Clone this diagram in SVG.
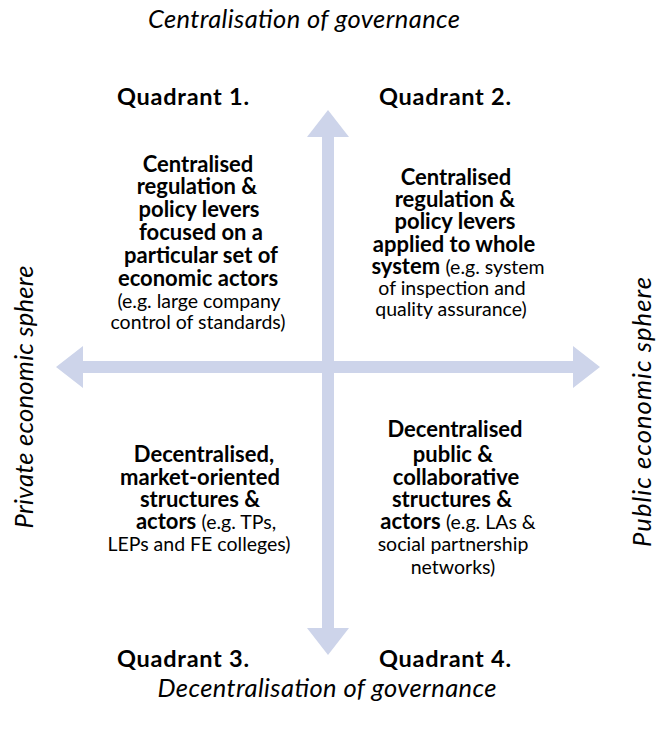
<svg xmlns="http://www.w3.org/2000/svg" width="656" height="731" viewBox="0 0 656 731">
  <style>
    .axis { font-family: Lato, "Open Sans", "Liberation Sans", sans-serif; font-style: italic; font-size: 25.5px; fill: #000; }
    .quad { font-family: Lato, "Open Sans", "Liberation Sans", sans-serif; font-weight: bold; font-size: 23.5px; fill: #000; }
    .b { font-family: Lato, "Open Sans", "Liberation Sans", sans-serif; font-weight: bold; font-size: 22px; fill: #000; text-anchor: middle; }
    .r { font-family: Lato, "Open Sans", "Liberation Sans", sans-serif; font-weight: normal; font-size: 19.5px; fill: #000; text-anchor: middle; }
    .rs { font-weight: normal; font-size: 19.5px; }
    .arrow { fill: #CDD4EA; }
  </style>
  <rect width="656" height="731" fill="#ffffff"/>

  <!-- two crossing double-headed axes -->
  <g id="connectors">
    <polygon id="axis-vertical" class="arrow"
      points="328,110 349,137 334,137 334,628 349,628 328,655 307,628 322,628 322,137 307,137"/>
    <polygon id="axis-horizontal" class="arrow"
      points="56,367 83,346 83,361 573,361 573,346 600,367 573,388 573,373 83,373 83,388"/>
  </g>

  <!-- axis labels -->
  <g id="label-top"><text class="axis" x="304" y="28" text-anchor="middle" textLength="312">Centralisation of governance</text></g>
  <g id="label-bottom"><text class="axis" x="327" y="697" text-anchor="middle" textLength="339">Decentralisation of governance</text></g>
  <g id="label-left"><text class="axis" transform="translate(33,397) rotate(-90)" text-anchor="middle" textLength="263">Private economic sphere</text></g>
  <g id="label-right"><text class="axis" transform="translate(651,412) rotate(-90)" text-anchor="middle" textLength="270">Public economic sphere</text></g>

  <!-- quadrant headings -->
  <g id="heading-q1"><text class="quad" x="117" y="105" textLength="132">Quadrant 1.</text></g>
  <g id="heading-q2"><text class="quad" x="379" y="105" textLength="132">Quadrant 2.</text></g>
  <g id="heading-q3"><text class="quad" x="117" y="667" textLength="132">Quadrant 3.</text></g>
  <g id="heading-q4"><text class="quad" x="379" y="667" textLength="132">Quadrant 4.</text></g>

  <!-- quadrant 1 -->
  <g id="q1">
    <text class="b" x="198" y="172">Centralised</text>
    <text class="b" x="197" y="194">regulation &amp;</text>
    <text class="b" x="199" y="217">policy levers</text>
    <text class="b" x="201" y="240">focused on a</text>
    <text class="b" x="201" y="263">particular set of</text>
    <text class="b" x="198" y="286">economic actors</text>
    <text class="r" x="199" y="308">(e.g. large company</text>
    <text class="r" x="198" y="329">control of standards)</text>
  </g>

  <!-- quadrant 2 -->
  <g id="q2">
    <text class="b" x="456" y="185">Centralised</text>
    <text class="b" x="455" y="207">regulation &amp;</text>
    <text class="b" x="455" y="229">policy levers</text>
    <text class="b" x="454" y="252">applied to whole</text>
    <text class="b" x="458" y="274">system <tspan class="rs">(e.g. system</tspan></text>
    <text class="r" x="452" y="295">of inspection and</text>
    <text class="r" x="451" y="316">quality assurance)</text>
  </g>

  <!-- quadrant 3 -->
  <g id="q3">
    <text class="b" x="204" y="462">Decentralised,</text>
    <text class="b" x="200" y="485">market-oriented</text>
    <text class="b" x="200" y="507">structures &amp;</text>
    <text class="b" x="206" y="529">actors <tspan class="rs">(e.g. TPs,</tspan></text>
    <text class="r" x="199" y="551">LEPs and FE colleges)</text>
  </g>

  <!-- quadrant 4 -->
  <g id="q4">
    <text class="b" x="455" y="437">Decentralised</text>
    <text class="b" x="453" y="462">public &amp;</text>
    <text class="b" x="456" y="485">collaborative</text>
    <text class="b" x="452" y="507">structures &amp;</text>
    <text class="b" x="458" y="529">actors <tspan class="rs">(e.g. LAs &amp;</tspan></text>
    <text class="r" x="453" y="551">social partnership</text>
    <text class="r" x="453" y="574">networks)</text>
  </g>
</svg>
